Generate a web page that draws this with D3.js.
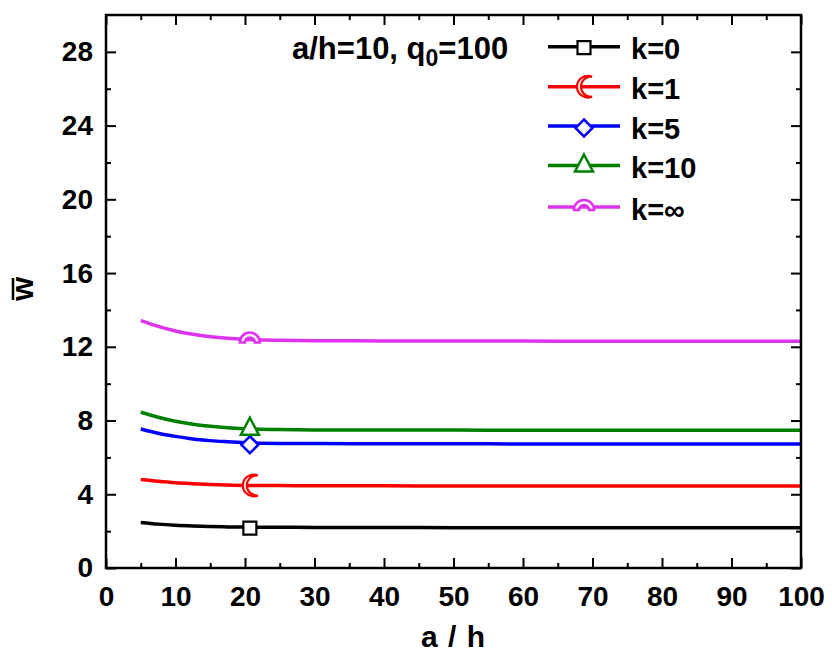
<!DOCTYPE html>
<html><head><meta charset="utf-8">
<script src="https://cdn.jsdelivr.net/npm/d3@7"></script>
<style>
body{margin:0;background:#fff;}
text{font-family:"Liberation Sans",Arial,sans-serif;font-weight:bold;fill:#000;}
</style></head>
<body><svg id="chart" width="832" height="653"></svg>
<script>
const aOverH = [5, 7.5, 10, 12.5, 15, 17.5, 20, 25, 30, 40, 50, 60, 70, 80, 90, 100];
const wK0   = [2.47, 2.38, 2.32, 2.28, 2.25, 2.23, 2.22, 2.21, 2.20, 2.20, 2.19, 2.19, 2.19, 2.19, 2.19, 2.19];
const wK1   = [4.80, 4.70, 4.62, 4.57, 4.53, 4.50, 4.48, 4.47, 4.46, 4.46, 4.45, 4.45, 4.45, 4.45, 4.45, 4.45];
const wK5   = [7.54, 7.31, 7.14, 7.00, 6.91, 6.85, 6.80, 6.76, 6.75, 6.74, 6.74, 6.73, 6.73, 6.73, 6.73, 6.73];
const wK10  = [8.45, 8.18, 7.96, 7.80, 7.69, 7.61, 7.56, 7.51, 7.49, 7.48, 7.48, 7.47, 7.47, 7.47, 7.47, 7.47];
const wKinf = [13.42, 13.11, 12.86, 12.68, 12.55, 12.46, 12.40, 12.35, 12.33, 12.32, 12.31, 12.31, 12.30, 12.30, 12.30, 12.30];
const seriesNames = ["k=0", "k=1", "k=5", "k=10", "k=\u221e"];
const seriesColors = ["#000000", "#ff0000", "#0000ff", "#008000", "#dd33ee"];
const markerAt = 20.7;
const xTicks = [0, 10, 20, 30, 40, 50, 60, 70, 80, 90, 100];
const yTicks = [0, 4, 8, 12, 16, 20, 24, 28];

const series = [wK0, wK1, wK5, wK10, wKinf];
const svg = d3.select("#chart");
const L = 106, T = 15, R = 801, B = 568;
const x = d3.scaleLinear().domain([0, 100]).range([L, R]);
const y = d3.scaleLinear().domain([0, 30]).range([B, T]);

// marker shapes
const markerPaths = [
  "M-6.5,-6.5H6.5V6.5H-6.5Z",
  "M8,-10A10.83,10.83 0 1,0 8,10A10.05,10.05 0 1,1 8,-10Z",
  "M0,-8.5L8.5,0L0,8.5L-8.5,0Z",
  "M0,-10L9,7H-9Z",
  "M-10,4A10,10 0 0,1 10,4L5,4A5,5 0 0,0 -5,4Z"
];
const markerOffsets = [1, 0, 2, -1, -1];
const markerStroke = [2.2, 2.2, 2.5, 2.5, 2.6];

// lines
const line = d3.line().x((d, i) => x(aOverH[i])).y(d => y(d)).curve(d3.curveMonotoneX);
const plot = svg.append("g");
series.forEach((s, i) => {
  plot.append("path").attr("d", line(s)).attr("fill", "none")
    .attr("stroke", seriesColors[i]).attr("stroke-width", 3.5);
});
series.forEach((s, i) => {
  const interp = d3.scaleLinear().domain(aOverH).range(s);
  plot.append("path").attr("d", markerPaths[i])
    .attr("transform", `translate(${x(markerAt)},${y(interp(markerAt)) + markerOffsets[i]})`)
    .attr("fill", "#fff").attr("stroke", seriesColors[i]).attr("stroke-width", markerStroke[i]);
});

// axes
const axG = svg.append("g");
const xMinor = d3.range(5, 100, 10);
const yMinor = d3.range(2, 30, 4);
function ticks(g, axis) { g.call(axis); g.select(".domain").remove(); g.selectAll("line").attr("stroke", "#000").attr("stroke-width", 2); }
ticks(axG.append("g").attr("transform", `translate(0,${B})`), d3.axisBottom(x).tickValues(xTicks).tickSize(-10).tickPadding(18).tickFormat(d3.format("d")));
ticks(axG.append("g").attr("transform", `translate(0,${B})`), d3.axisBottom(x).tickValues(xMinor).tickSize(-5).tickFormat(""));
ticks(axG.append("g").attr("transform", `translate(0,${T})`), d3.axisTop(x).tickValues(xTicks).tickSize(-10).tickFormat(""));
ticks(axG.append("g").attr("transform", `translate(0,${T})`), d3.axisTop(x).tickValues(xMinor).tickSize(-5).tickFormat(""));
ticks(axG.append("g").attr("transform", `translate(${L},0)`), d3.axisLeft(y).tickValues(yTicks).tickSize(-10).tickPadding(13).tickFormat(d3.format("d")));
ticks(axG.append("g").attr("transform", `translate(${L},0)`), d3.axisLeft(y).tickValues(yMinor).tickSize(-5).tickFormat(""));
ticks(axG.append("g").attr("transform", `translate(${R},0)`), d3.axisRight(y).tickValues(yTicks).tickSize(-10).tickFormat(""));
ticks(axG.append("g").attr("transform", `translate(${R},0)`), d3.axisRight(y).tickValues(yMinor).tickSize(-5).tickFormat(""));
axG.selectAll(".tick text").style("font-family", "'Liberation Sans',Arial,sans-serif").style("font-weight", "bold").style("font-size", "28px").attr("fill", "#000");
axG.append("rect").attr("x", L).attr("y", T).attr("width", R - L).attr("height", B - T)
  .attr("fill", "none").attr("stroke", "#000").attr("stroke-width", 2.5);

// titles
svg.append("text").attr("x", 453).attr("y", 647).attr("text-anchor", "middle")
  .style("font-size", "30px").attr("word-spacing", "2px").text("a / h");
const yt = svg.append("g").attr("transform", "translate(33,289) rotate(-90)");
yt.append("text").attr("text-anchor", "middle").style("font-size", "31px").text("w");
yt.append("line").attr("x1", -11).attr("x2", 11).attr("y1", -20).attr("y2", -20).attr("stroke", "#000").attr("stroke-width", 2.5);

// annotation
const ann = svg.append("text").attr("x", 292).attr("y", 59).style("font-size", "31px");
ann.append("tspan").text("a/h=10, q");
ann.append("tspan").attr("dy", 7).style("font-size", "23px").text("0");
ann.append("tspan").attr("dy", -7).text("=100");

// legend
const legY = [46.7, 86.7, 126, 165.5, 207];
seriesNames.forEach((n, i) => {
  const g = svg.append("g");
  g.append("line").attr("x1", 548).attr("x2", 620).attr("y1", legY[i]).attr("y2", legY[i])
    .attr("stroke", seriesColors[i]).attr("stroke-width", 3.5);
  g.append("path").attr("d", markerPaths[i])
    .attr("transform", `translate(584,${legY[i] + markerOffsets[i]})`)
    .attr("fill", "#fff").attr("stroke", seriesColors[i]).attr("stroke-width", markerStroke[i]);
  g.append("text").attr("x", 631).attr("y", legY[i] + 12.5).style("font-size", "29px").text(n);
});
</script></body></html>
